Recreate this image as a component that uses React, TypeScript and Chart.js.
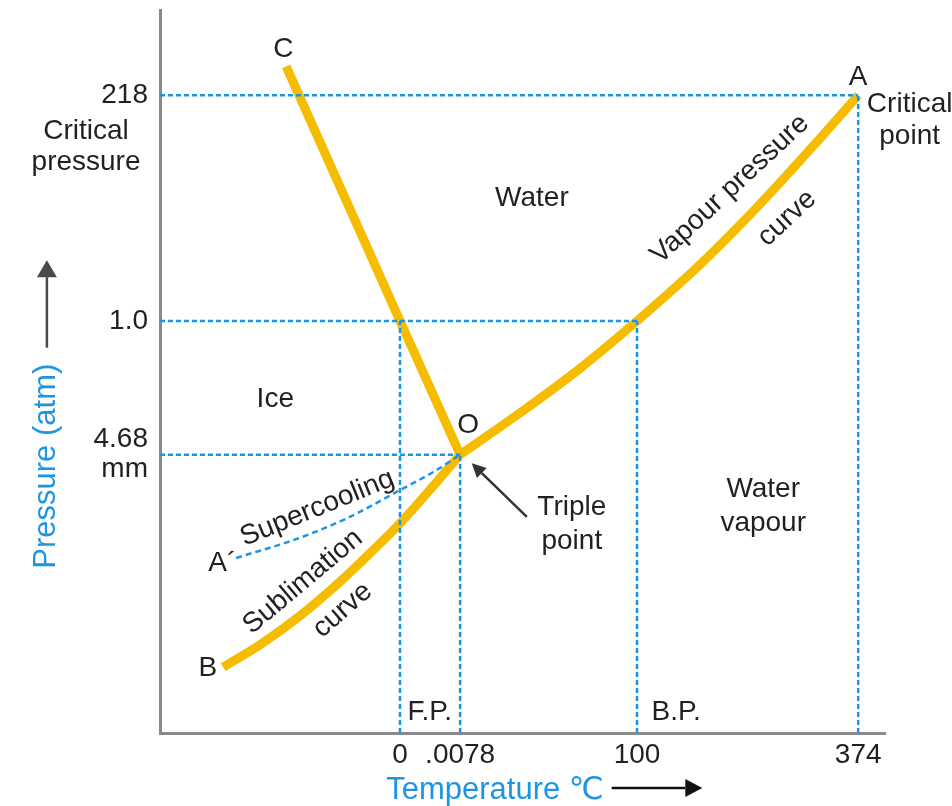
import React, { useEffect, useRef } from "react";
import { Chart, registerables } from "chart.js";
Chart.register(...registerables);

// ---- data (schematic diagram units, 0..100 on both axes) ----
const xTickValues = [33.1, 41.4, 65.8, 96.3];
const xTickLabels = ["0", ".0078", "100", "374"];
const yTickValues = [38.5, 57.0, 88.2];
const yTickLabels: (string | string[])[] = [["4.68", "mm"], "1.0", "218"];

// fusion curve O -> C
const fusionX = [17.4, 33.1, 41.4];
const fusionY = [92.2, 57.0, 38.5];
// vapour pressure curve O -> A
const vapourX = [41.4, 49.7, 57.9, 65.8, 74.5, 82.8, 91.0, 96.3];
const vapourY = [38.5, 44.3, 50.4, 57.0, 64.8, 73.2, 82.2, 88.2];
// sublimation curve B -> O
const sublimationX = [8.7, 13.8, 19.3, 24.8, 29.0, 33.1, 37.2, 41.4];
const sublimationY = [9.1, 12.2, 16.2, 20.9, 24.9, 29.0, 33.6, 38.5];
// supercooling A' -> O
const supercoolX = [10.5, 19.3, 26.2, 33.1, 37.7, 41.1];
const supercoolY = [24.2, 27.0, 29.9, 33.6, 36.1, 38.3];

// guide intersections: [xTick index, yTick index]
const guidePairs = [
  [0, 1],
  [1, 0],
  [2, 1],
  [3, 2],
];

// ---- annotations (layout) ----
const TEXT = "#231f20";
const BLUE = "#1f95e2";
const YELLOW = "#f6bd00";
const FONT = '"Liberation Sans", Arial, "DejaVu Sans", sans-serif';

type Lbl = { text: string; x: number; y: number; rot?: number; size?: number; lh?: number; color?: string };
const labels: Lbl[] = [
  { text: "C", x: 17.0, y: 94.5 },
  { text: "A", x: 96.3, y: 90.7 },
  { text: "Critical\npoint", x: 103.4, y: 84.8, lh: 32 },
  { text: "Critical\npressure", x: -10.2, y: 81.1, lh: 31 },
  { text: "Water", x: 51.3, y: 74.0 },
  { text: "Ice", x: 15.9, y: 46.1 },
  { text: "O", x: 42.5, y: 42.6 },
  { text: "Triple\npoint", x: 56.8, y: 28.8, lh: 34 },
  { text: "Water\nvapour", x: 83.2, y: 31.3, lh: 34 },
  { text: "F.P.", x: 37.2, y: 2.9 },
  { text: "B.P.", x: 71.2, y: 2.9 },
  { text: "A\u00b4", x: 8.6, y: 23.5 },
  { text: "B", x: 6.6, y: 8.9 },
  { text: "Vapour pressure", x: 78.6, y: 75.2, rot: -43 },
  { text: "curve", x: 86.5, y: 71.2, rot: -43 },
  { text: "Supercooling", x: 21.7, y: 31.1, rot: -22 },
  { text: "Sublimation", x: 19.7, y: 20.9, rot: -40 },
  { text: "curve", x: 25.2, y: 17.0, rot: -41 },
  { text: "Pressure (atm)", x: -15.6, y: 36.9, rot: -90, size: 31, color: BLUE },
  { text: "Temperature \u2103", x: 46.2, y: -7.9, size: 31, color: BLUE },
];

type Arr = { x0: number; y0: number; x1: number; y1: number; color: string; hl: number; hw: number };
const arrows: Arr[] = [
  { x0: -15.6, y0: 53.3, x1: -15.6, y1: 65.4, color: "#4a4a4a", hl: 17, hw: 10 },
  { x0: 62.3, y0: -7.6, x1: 74.8, y1: -7.6, color: "#111", hl: 17, hw: 9 },
  { x0: 50.6, y0: 29.9, x1: 43.0, y1: 37.3, color: "#333", hl: 14, hw: 7 },
];

const annotPlugin = {
  id: "annot",
  afterDraw(chart: any) {
    const { ctx, scales } = chart;
    const xs = scales.x, ys = scales.y;
    for (const t of labels) {
      const px = xs.getPixelForValue(t.x), py = ys.getPixelForValue(t.y);
      ctx.save();
      ctx.translate(px, py);
      if (t.rot) ctx.rotate((t.rot * Math.PI) / 180);
      ctx.font = `${t.size || 28}px ${FONT}`;
      ctx.fillStyle = t.color || TEXT;
      ctx.textAlign = "center";
      ctx.textBaseline = "middle";
      const lines = t.text.split("\n");
      const lh = t.lh || 32;
      lines.forEach((l, i) => ctx.fillText(l, 0, (i - (lines.length - 1) / 2) * lh));
      ctx.restore();
    }
    for (const a of arrows) {
      const x0 = xs.getPixelForValue(a.x0), y0 = ys.getPixelForValue(a.y0);
      const x1 = xs.getPixelForValue(a.x1), y1 = ys.getPixelForValue(a.y1);
      const ang = Math.atan2(y1 - y0, x1 - x0);
      const bx = x1 - a.hl * Math.cos(ang), by = y1 - a.hl * Math.sin(ang);
      ctx.save();
      ctx.strokeStyle = a.color;
      ctx.fillStyle = a.color;
      ctx.lineWidth = 2.5;
      ctx.beginPath();
      ctx.moveTo(x0, y0);
      ctx.lineTo(bx, by);
      ctx.stroke();
      ctx.beginPath();
      ctx.moveTo(x1, y1);
      ctx.lineTo(bx + a.hw * Math.sin(ang), by - a.hw * Math.cos(ang));
      ctx.lineTo(bx - a.hw * Math.sin(ang), by + a.hw * Math.cos(ang));
      ctx.closePath();
      ctx.fill();
      ctx.restore();
    }
  },
};

const pts = (xs: number[], ys: number[]) => xs.map((x, i) => ({ x, y: ys[i] }));

export default function App() {
  const ref = useRef<HTMLCanvasElement | null>(null);
  useEffect(() => {
    if (!ref.current) return;
    const guideStyle = {
      borderColor: BLUE,
      borderWidth: 2.5,
      borderDash: [5, 3],
      pointRadius: 0,
      tension: 0,
      fill: false,
      order: 0,
    };
    const curveStyle = {
      borderColor: YELLOW,
      borderWidth: 9,
      pointRadius: 0,
      fill: false,
      borderCapStyle: "butt",
      borderJoinStyle: "round",
      order: 1,
    };
    const datasets: any[] = [];
    // vertical guides
    guidePairs.forEach(([xi, yi]) => {
      datasets.push({
        ...guideStyle,
        data: [
          { x: xTickValues[xi], y: 0 },
          { x: xTickValues[xi], y: yTickValues[yi] },
        ],
      });
    });
    // horizontal guides
    yTickValues.forEach((yv, yi) => {
      const xs = guidePairs.filter((p) => p[1] === yi).map((p) => xTickValues[p[0]]);
      datasets.push({
        ...guideStyle,
        data: [
          { x: 0, y: yv },
          { x: Math.max(...xs), y: yv },
        ],
      });
    });
    datasets.push({
      ...guideStyle,
      borderDash: [6, 4],
      cubicInterpolationMode: "monotone",
      data: pts(supercoolX, supercoolY),
    });
    datasets.push({ ...curveStyle, tension: 0, data: pts(fusionX, fusionY) });
    datasets.push({ ...curveStyle, cubicInterpolationMode: "monotone", data: pts(vapourX, vapourY) });
    datasets.push({ ...curveStyle, cubicInterpolationMode: "monotone", data: pts(sublimationX, sublimationY) });

    const chart = new Chart(ref.current, {
      type: "line",
      data: { datasets },
      plugins: [annotPlugin],
      options: {
        animation: false,
        responsive: false,
        devicePixelRatio: 1,
        layout: { padding: { top: 10, right: 67, bottom: 0, left: 0 } },
        plugins: { legend: { display: false }, tooltip: { enabled: false } },
        scales: {
          x: {
            type: "linear",
            min: 0,
            max: 100,
            grid: { display: false, drawTicks: false },
            border: { display: true, color: "#8a8a8a", width: 3 },
            afterBuildTicks: (s: any) => {
              s.ticks = xTickValues.map((v) => ({ value: v }));
            },
            afterFit: (s: any) => {
              s.height = 73;
              s.paddingLeft = 0;
              s.paddingRight = 0;
            },
            ticks: {
              autoSkip: false,
              maxRotation: 0,
              minRotation: 0,
              padding: 5,
              color: TEXT,
              font: { family: FONT, size: 28 },
              callback: (_v: any, i: number) => xTickLabels[i],
            },
          },
          y: {
            type: "linear",
            min: 0,
            max: 100,
            grid: { display: false, drawTicks: false },
            border: { display: true, color: "#8a8a8a", width: 3 },
            afterBuildTicks: (s: any) => {
              s.ticks = yTickValues.map((v) => ({ value: v }));
            },
            afterFit: (s: any) => {
              s.width = 160;
              s.paddingTop = 0;
              s.paddingBottom = 0;
            },
            ticks: {
              autoSkip: false,
              padding: 12,
              color: TEXT,
              font: { family: FONT, size: 28, lineHeight: 1.07 },
              callback: (_v: any, i: number) => yTickLabels[i],
            },
          },
        },
      } as any,
    });
    return () => chart.destroy();
  }, []);
  return (
    <div style={{ position: "fixed", left: 0, top: 0, width: 952, height: 806, background: "#fff" }}>
      <canvas ref={ref} width={952} height={806} style={{ width: 952, height: 806 }} />
    </div>
  );
}
